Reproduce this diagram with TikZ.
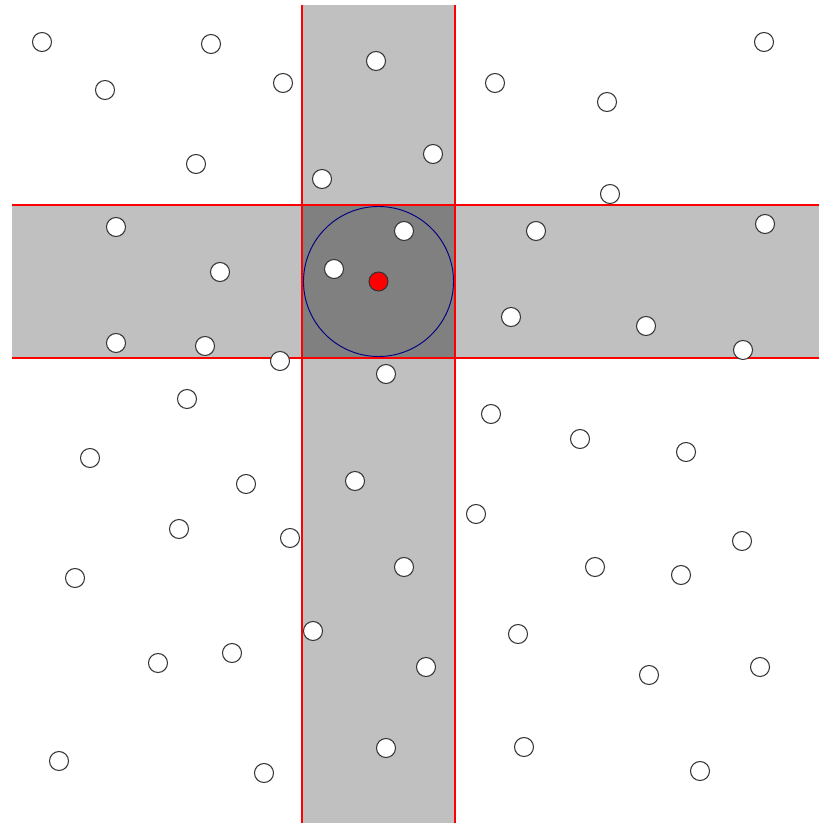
\documentclass[tikz,border=0pt]{standalone}
\usepackage{tikz}

\definecolor{bandgray}{HTML}{C0C0C0}
\definecolor{coregray}{HTML}{808080}
\definecolor{rangeblue}{HTML}{000080}
\definecolor{slabred}{HTML}{FF0000}

\begin{document}
\begin{tikzpicture}[
  x=0.03cm, y=-0.03cm,
  band/.style={fill=bandgray, draw=none},
  core/.style={fill=coregray, draw=none},
  slabline/.style={color=slabred, line width=1pt},
  point/.style={circle, draw=black!80, fill=white, line width=0.9pt, minimum size=0.57cm, inner sep=0pt},
  query/.style={circle, draw=black!80, fill=red, line width=0.9pt, minimum size=0.57cm, inner sep=0pt},
  searchdisk/.style={circle, draw=rangeblue, line width=0.8pt, minimum size=4.5cm, inner sep=0pt},
]
  \useasboundingbox (0,0) rectangle (819,823);

  % slabs of the query box
  \fill[band] (302,5) rectangle (455,823);
  \fill[band] (12,205) rectangle (819,358);
  \fill[core] (302,205) rectangle (455,358);

  % slab borders
  \coordinate (vlt) at (302,5);   \coordinate (vlb) at (302,823);
  \coordinate (vrt) at (455,5);   \coordinate (vrb) at (455,823);
  \coordinate (hlt) at (12,205);  \coordinate (hrt) at (819,205);
  \coordinate (hlb) at (12,358);  \coordinate (hrb) at (819,358);
  \draw[slabline] (vlt) -- (vlb);
  \draw[slabline] (vrt) -- (vrb);
  \draw[slabline] (hlt) -- (hrt);
  \draw[slabline] (hlb) -- (hrb);

  \node[searchdisk] (disk) at (378.5,281.5) {};

  % data points
  \foreach \px/\py [count=\n] in {
    42/42, 211/44, 105/90, 283/83, 376/61, 196/164, 322/179,
    116/227, 220/272, 334/269, 404/231, 116/343, 205/346, 280/361,
    386/374, 187/399,
    764/42, 495/83, 607/102, 433/154, 610/194, 536/231, 765/224,
    511/317, 646/326, 743/350,
    90/458, 246/484, 355/481, 179/529, 290/538, 404/567, 75/578,
    313/631, 232/653, 158/663, 386/748, 59/761, 264/773,
    491/414, 580/439, 686/452, 476/514, 742/541, 595/567, 681/575,
    518/634, 426/667, 649/675, 760/667, 524/747, 700/771}
    \node[point] (p\n) at (\px,\py) {};

  \node[query] (q) at (disk.center) {};
\end{tikzpicture}
\end{document}
